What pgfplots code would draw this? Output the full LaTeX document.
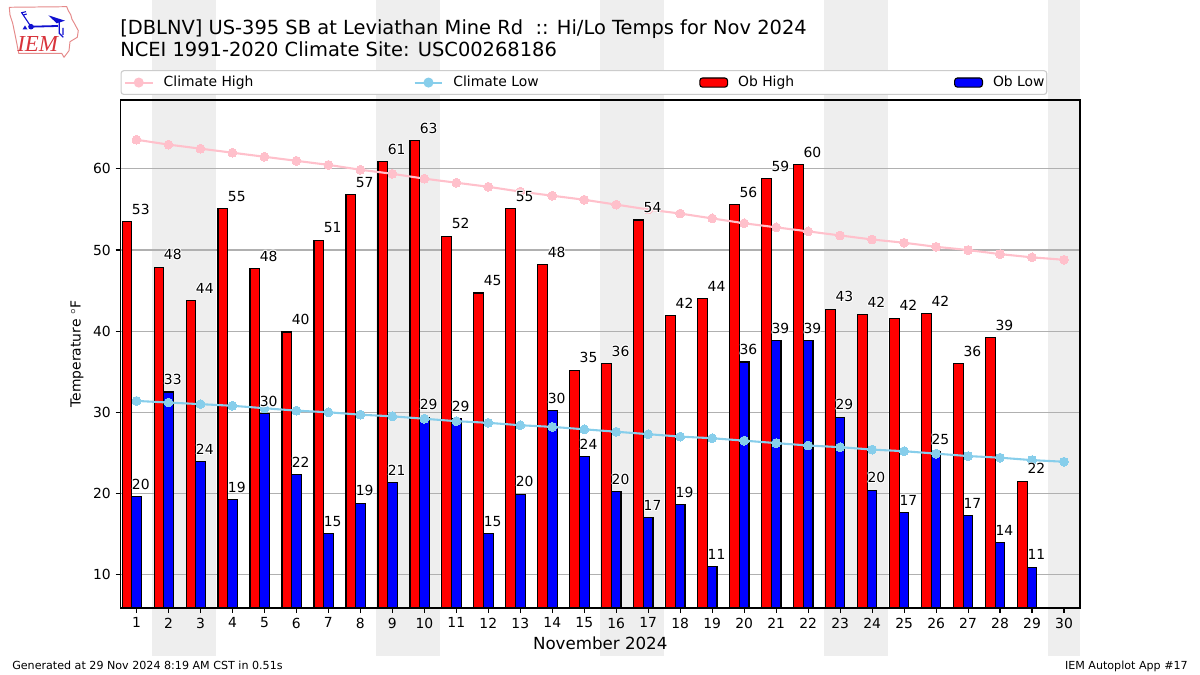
\documentclass[border=0pt]{standalone}
\usepackage{pgfplots}
\usepackage{pgfplotstable}
\usepackage{fontspec}
\pgfplotsset{compat=1.18}
\setmainfont{DejaVu Sans}
\newfontfamily\logofont{Liberation Serif}
\definecolor{climhi}{HTML}{FFC0CB}
\definecolor{climlo}{HTML}{87CEEB}
\definecolor{wkend}{HTML}{EEEEEE}
\definecolor{gridc}{HTML}{B0B0B0}
\definecolor{legc}{HTML}{CCCCCC}
\definecolor{logored}{HTML}{D8343C}
\definecolor{logoline}{HTML}{E58A8A}
\definecolor{logoblue}{HTML}{1010D0}
\newcommand{\halo}[1]{{\color{white}\rlap{\kern.7pt #1}\rlap{\kern-.7pt #1}\rlap{\raisebox{.7pt}{#1}}\rlap{\raisebox{-.7pt}{#1}}\rlap{\kern.5pt\raisebox{.5pt}{#1}}\rlap{\kern-.5pt\raisebox{.5pt}{#1}}\rlap{\kern.5pt\raisebox{-.5pt}{#1}}\rlap{\kern-.5pt\raisebox{-.5pt}{#1}}}#1}
\pgfplotsset{
  layers/mine/.define layer set={axis background,axis grid,pre main,main,axis ticks,axis lines,axis tick labels,axis descriptions,axis foreground}{},
  lab/.style={ybar,bar width=0.3,draw=none,fill=none,forget plot,
   point meta=explicit symbolic,
   nodes near coords={\halo{\pgfplotspointmeta}},
   every node near coord/.append style={anchor=south west,inner sep=0pt,xshift=-3.46pt,yshift=4.3pt,text=black,font=\fontsize{10}{12}\selectfont}},
}
\pgfplotstableread{
day high hl low ll
1 53.5 53 19.6 20
2 47.9 48 32.5 33
3 43.8 44 23.9 24
4 55.1 55 19.2 19
5 47.7 48 29.8 30
6 39.9 40 22.3 22
7 51.2 51 15.0 15
8 56.8 57 18.8 19
9 60.9 61 21.3 21
10 63.5 63 29.4 29
11 51.7 52 29.2 29
12 44.7 45 15.0 15
13 55.1 55 19.9 20
14 48.2 48 30.2 30
15 35.2 35 24.5 24
16 36.0 36 20.2 20
17 53.7 54 17.0 17
18 41.9 42 18.6 19
19 44.0 44 11.0 11
20 55.6 56 36.2 36
21 58.8 59 38.8 39
22 60.5 60 38.8 39
23 42.7 43 29.4 29
24 42.0 42 20.4 20
25 41.6 42 17.6 17
26 42.2 42 25.1 25
27 36.0 36 17.3 17
28 39.2 39 13.9 14
29 21.5 22 10.9 11
}\obs
\pgfplotstableread{
day chi clo
1 63.6 31.4
2 63.0 31.2
3 62.5 31.0
4 62.0 30.8
5 61.5 30.5
6 61.0 30.2
7 60.5 30.0
8 59.9 29.7
9 59.4 29.5
10 58.8 29.2
11 58.3 28.9
12 57.8 28.7
13 57.2 28.4
14 56.7 28.2
15 56.2 27.9
16 55.6 27.6
17 55.0 27.3
18 54.5 27.0
19 53.9 26.8
20 53.3 26.5
21 52.8 26.2
22 52.3 25.9
23 51.8 25.7
24 51.3 25.4
25 50.9 25.2
26 50.4 24.9
27 50.0 24.6
28 49.5 24.4
29 49.1 24.1
30 48.8 23.9
}\clim
\begin{document}
\begin{tikzpicture}
\path (0,0) rectangle (864pt,486pt);
\begin{axis}[
  set layers=mine,
  at={(86.76pt,48.24pt)},
  anchor=south west,
  scale only axis,
  width=690.84pt,
  height=365.76pt,
  xmin=0.5, xmax=30.5,
  ymin=5.87, ymax=68.5,
  xtick={1,2,...,30},
  ytick={10,20,30,40,50,60},
  tick align=outside,
  tick pos=left,
  major tick length=3.5pt,
  every tick/.style={black,line width=0.8pt},
  axis line style={line width=0.8pt},
  ymajorgrids,
  grid style={gridc,line width=0.8pt},
  tick label style={font=\fontsize{10}{12}\selectfont},
  /pgf/number format/assume math mode=true,
  xlabel={November 2024},
  xlabel style={font=\fontsize{12}{14}\selectfont,yshift=0.5pt},
  ylabel={Temperature $^\circ$F},
  ylabel style={font=\fontsize{10}{12}\selectfont},
  legend columns=4,
  legend cell align=left,
  legend style={
    at={(0,1)},anchor=south west,yshift=3.6pt,
    draw=legc,line width=0.8pt,rounded corners=2pt,
    font=\fontsize{10}{12}\selectfont,
    inner xsep=2pt,inner ysep=2pt,
    column sep=0pt,
    nodes={inner xsep=0pt},
  },
]
% weekend shading
\addplot[fill=wkend,draw=none,on layer=axis background,forget plot] coordinates {(1.5,0)(3.5,0)(3.5,100)(1.5,100)};
\addplot[fill=wkend,draw=none,on layer=axis background,forget plot] coordinates {(8.5,0)(10.5,0)(10.5,100)(8.5,100)};
\addplot[fill=wkend,draw=none,on layer=axis background,forget plot] coordinates {(15.5,0)(17.5,0)(17.5,100)(15.5,100)};
\addplot[fill=wkend,draw=none,on layer=axis background,forget plot] coordinates {(22.5,0)(24.5,0)(24.5,100)(22.5,100)};
\addplot[fill=wkend,draw=none,on layer=axis background,forget plot] coordinates {(29.5,0)(30.5,0)(30.5,100)(29.5,100)};
% legend
\addlegendimage{legend image code/.code={\draw[climhi,line width=1.5pt](0pt,0pt)--(20pt,0pt);\fill[climhi](10pt,0pt) circle (3.2pt);}}
\addlegendentry{\hspace{7.2pt}\makebox[179.9pt][l]{Climate High}}
\addlegendimage{legend image code/.code={\draw[climlo,line width=1.5pt](0pt,0pt)--(20pt,0pt);\fill[climlo](10pt,0pt) circle (3.2pt);}}
\addlegendentry{\hspace{7.2pt}\makebox[177pt][l]{Climate Low}}
\addlegendimage{legend image code/.code={\draw[fill=red,draw=black,line width=0.8pt](0pt,-3.3pt) rectangle (20pt,3.3pt);}}
\addlegendentry{\hspace{7.2pt}\makebox[155.5pt][l]{Ob High}}
\addlegendimage{legend image code/.code={\draw[fill=blue,draw=black,line width=0.8pt](0pt,-3.3pt) rectangle (20pt,3.3pt);}}
\addlegendentry{\hspace{7.2pt}\makebox[36.7pt][l]{Ob Low}}
% bars
\addplot[ybar,bar width=0.3,bar shift=-0.3,fill=red,draw=black,line width=0.8pt,forget plot] table[x=day,y=high] {\obs};
\addplot[ybar,bar width=0.3,bar shift=0,fill=blue,draw=black,line width=0.8pt,forget plot] table[x=day,y=low] {\obs};
% climate
\addplot[climhi,line width=1.5pt,mark=*,mark size=3.2pt,mark options={fill=climhi,draw=climhi,line width=0pt},forget plot] table[x=day,y=chi] {\clim};
\addplot[climlo,line width=1.5pt,mark=*,mark size=3.2pt,mark options={fill=climlo,draw=climlo,line width=0pt},forget plot] table[x=day,y=clo] {\clim};
% labels
\addplot[lab,bar shift=-0.3] table[x=day,y=high,meta=hl] {\obs};
\addplot[lab,bar shift=0] table[x=day,y=low,meta=ll] {\obs};
\end{axis}
\begin{scope}[shift={(0pt,486pt)},x=0.72pt,y=-0.72pt]
\node[anchor=base west,inner sep=0pt,font=\fontsize{14}{16}\selectfont] at (120,35) {[DBLNV] US-395 SB at Leviathan Mine Rd\ \ :: Hi/Lo Temps for Nov 2024};
\node[anchor=base west,inner sep=0pt,font=\fontsize{14}{16}\selectfont] at (120,57) {NCEI 1991-2020 Climate Site: USC00268186};
\node[anchor=base west,inner sep=0pt,font=\fontsize{8}{10}\selectfont] at (12,670) {Generated at 29 Nov 2024 8:19 AM CST in 0.51s};
\node[anchor=base east,inner sep=0pt,font=\fontsize{8}{10}\selectfont] at (1188,670) {IEM Autoplot App \#17};
% logo
\draw[logoline,line width=0.7pt,line join=round] (9.3,7.3)--(66.7,6.7)--(68.3,10.7)--(70.7,14.7)--(72,19.3)--(74,22.7)--(78.3,30.7)--(77.3,37.3)--(70,41.7)--(69,50.7)--(64,57.3)--(61.7,53.3)--(18.7,53.3)--(16,39.3)--(12.7,23.3)--(10,15)--cycle;
\draw[logoblue,line width=1.3pt] (31,26.7)--(58,26);
\fill[logoblue] (31,26.7) circle (2.8);
\draw[logoblue,line width=0.8pt] (31,26.7)--(21.7,12.7)--(26,11.7) (23.3,15)--(26.7,14);
\fill[logoblue] (48.3,15.3)--(65,20.7)--(56.7,23.3)--cycle;
\draw[logoblue,line width=0.8pt] (59.3,21.7)--(59.3,33.3)--(63.3,37.3) (63,28)--(63,35);
\fill[logoblue] (25,25.5)--(27.5,29.5)--(22.5,29.5)--cycle;
\node[anchor=base,inner sep=0pt,text=logored,font=\logofont\itshape\fontsize{16.5}{18}\selectfont] at (37.7,51.5) {IEM};
\end{scope}
\end{tikzpicture}
\end{document}
